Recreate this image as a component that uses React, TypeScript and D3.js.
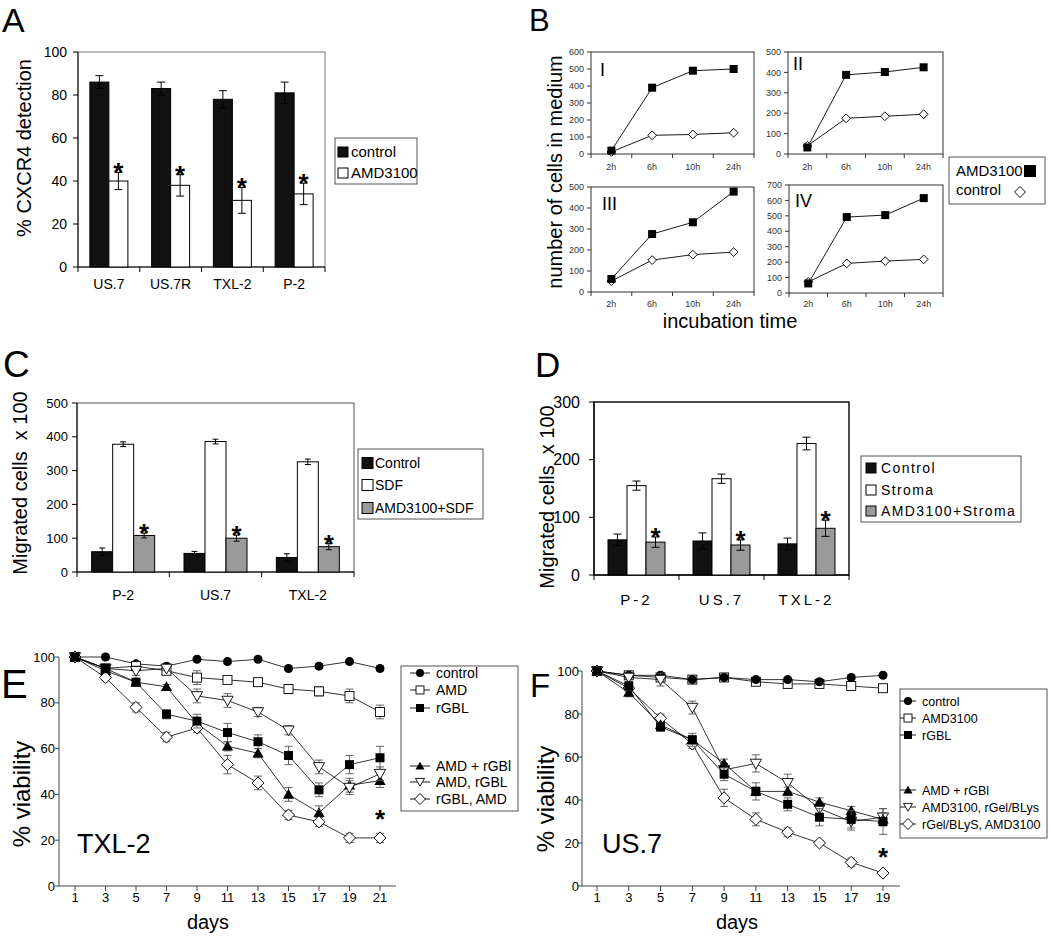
import React from "react";
import * as d3 from "d3";

const FONT = "'Liberation Sans', Arial, Helvetica, sans-serif";

// ---------- Panel A ----------
const aCategories = ["US.7", "US.7R", "TXL-2", "P-2"];
const aControl = [86, 83, 78, 81];
const aControlErr = [3, 3, 4, 5];
const aAMD = [40, 38, 31, 34];
const aAMDErr = [4, 5, 6, 5];
const aTicks = [0, 20, 40, 60, 80, 100];
const aLegend = ["control", "AMD3100"];

// ---------- Panel B ----------
const bTimes = ["2h", "6h", "10h", "24h"];
const bI_AMD = [20, 390, 490, 500];
const bI_control = [12, 110, 115, 125];
const bII_AMD = [32, 388, 402, 425];
const bII_control = [40, 175, 185, 195];
const bIII_AMD = [62, 276, 332, 478];
const bIII_control = [52, 152, 178, 190];
const bIV_AMD = [62, 492, 505, 615];
const bIV_control = [72, 192, 207, 218];
const bTicksI = [0, 100, 200, 300, 400, 500, 600];
const bTicksII = [0, 100, 200, 300, 400, 500];
const bTicksIII = [0, 100, 200, 300, 400, 500];
const bTicksIV = [0, 100, 200, 300, 400, 500, 600, 700];
const bLegend = ["AMD3100", "control"];

// ---------- Panel C ----------
const cCategories = ["P-2", "US.7", "TXL-2"];
const cControl = [60, 55, 43];
const cControlErr = [11, 6, 11];
const cSDF = [378, 386, 326];
const cSDFErr = [7, 7, 8];
const cAMD = [108, 100, 75];
const cAMDErr = [7, 9, 9];
const cTicks = [0, 100, 200, 300, 400, 500];
const cLegend = ["Control", "SDF", "AMD3100+SDF"];

// ---------- Panel D ----------
const dCategories = ["P-2", "US.7", "TXL-2"];
const dControl = [61, 59, 54];
const dControlErr = [10, 14, 10];
const dStroma = [155, 167, 228];
const dStromaErr = [8, 8, 11];
const dAMD = [57, 52, 81];
const dAMDErr = [9, 9, 14];
const dTicks = [0, 100, 200, 300];
const dLegend = ["Control", "Stroma", "AMD3100+Stroma"];

// ---------- Panel E (TXL-2) ----------
const eDays = [1, 3, 5, 7, 9, 11, 13, 15, 17, 19, 21];
const eControl = [100, 100, 97, 96, 99, 98, 99, 95, 96, 98, 95];
const eControlErr = [0, 1, 1, 1, 1, 1, 1, 1, 1, 1, 1];
const eAMD = [100, 95, 96, 94, 91, 90, 89, 86, 85, 83, 76];
const eAMDErr = [0, 1, 2, 1, 3, 1, 1, 2, 2, 3, 3];
const eRGBL = [100, 95, 89, 75, 72, 67, 63, 57, 42, 53, 56];
const eRGBLErr = [0, 2, 1, 2, 3, 4, 3, 4, 3, 4, 5];
const eAMDplus = [100, 94, 89, 87, 71, 61, 58, 40, 32, 44, 46];
const eAMDplusErr = [0, 1, 1, 1, 2, 2, 2, 3, 3, 3, 3];
const eAMDthen = [100, 95, 94, 95, 83, 81, 76, 68, 52, 43, 49];
const eAMDthenErr = [0, 1, 2, 1, 3, 3, 2, 2, 3, 3, 3];
const eRGBLthen = [100, 91, 78, 65, 69, 53, 45, 31, 28, 21, 21];
const eRGBLthenErr = [0, 1, 2, 2, 2, 4, 3, 2, 2, 2, 2];
const eLegend = ["control", "AMD", "rGBL", "AMD + rGBl", "AMD, rGBL", "rGBL, AMD"];

// ---------- Panel F (US.7) ----------
const fDays = [1, 3, 5, 7, 9, 11, 13, 15, 17, 19];
const fControl = [100, 98, 98, 96, 97, 96, 96, 95, 97, 98];
const fControlErr = [0, 1, 1, 1, 1, 1, 1, 1, 1, 1];
const fAMD = [100, 98, 97, 96, 97, 95, 94, 94, 93, 92];
const fAMDErr = [0, 1, 1, 1, 1, 1, 1, 1, 1, 1];
const fRGBL = [100, 93, 74, 68, 52, 44, 38, 32, 31, 30];
const fRGBLErr = [0, 2, 2, 3, 3, 4, 3, 4, 4, 6];
const fAMDplus = [100, 90, 75, 68, 57, 44, 44, 39, 35, 31];
const fAMDplusErr = [0, 2, 1, 2, 2, 2, 2, 2, 2, 3];
const fAMDthen = [100, 97, 96, 83, 54, 57, 48, 36, 30, 32];
const fAMDthenErr = [0, 2, 3, 3, 3, 4, 4, 3, 4, 4];
const fRGBLthen = [100, 92, 78, 66, 41, 31, 25, 20, 11, 6];
const fRGBLthenErr = [0, 1, 2, 2, 4, 3, 2, 1, 2, 1];
const fLegend = ["control", "AMD3100", "rGBL", "AMD + rGBl", "AMD3100, rGel/BLys", "rGel/BLyS, AMD3100"];
const viaTicks = [0, 20, 40, 60, 80, 100];

type MType = "circle" | "square" | "squareOpen" | "tri" | "triDown" | "diamond";

function Marker({ type, x, y, s }: { type: MType; x: number; y: number; s: number }) {
  const sw = 0.9;
  if (type === "circle") return <circle cx={x} cy={y} r={s / 2} fill="#000" />;
  if (type === "square")
    return <rect x={x - s / 2} y={y - s / 2} width={s} height={s} fill="#000" />;
  if (type === "squareOpen")
    return <rect x={x - s / 2} y={y - s / 2} width={s} height={s} fill="#fff" stroke="#000" strokeWidth={sw} />;
  if (type === "tri" || type === "triDown") {
    const p = d3.symbol().type(d3.symbolTriangle).size(s * s * 0.55)() as string;
    return (
      <path
        d={p}
        transform={`translate(${x},${y + (type === "tri" ? 1 : -1)}) rotate(${type === "tri" ? 0 : 180})`}
        fill={type === "tri" ? "#000" : "#fff"}
        stroke="#000"
        strokeWidth={type === "tri" ? 0 : sw}
      />
    );
  }
  const p = d3.symbol().type(d3.symbolSquare).size(s * s * 0.6)() as string;
  return <path d={p} transform={`translate(${x},${y}) rotate(45)`} fill="#fff" stroke="#000" strokeWidth={sw} />;
}

type BarSeries = { values: number[]; errors: number[]; fill: string; star?: boolean };

function BarChart(props: {
  x0: number; x1: number; yTop: number; yBot: number; yMax: number; ticks: number[];
  cats: string[]; series: BarSeries[]; barW: number; capW: number;
  tickFont: number; tickGap: number; catFont: number; catY: number; catSpacing?: number;
  frameColor: string; frameWidth?: number;
}) {
  const { x0, x1, yTop, yBot, yMax, ticks, cats, series, barW, capW } = props;
  const x = d3.scaleBand<string>().domain(cats).range([x0, x1]);
  const y = d3.scaleLinear().domain([0, yMax]).range([yBot, yTop]);
  const groupW = barW * series.length;
  const sub = d3.scaleBand<number>().domain(series.map((_, i) => i)).range([-groupW / 2, groupW / 2]);
  const bounds = [...cats.map((c) => x(c) as number), x1];
  return (
    <g>
      <rect x={x0} y={yTop} width={x1 - x0} height={yBot - yTop} fill="none" stroke={props.frameColor} strokeWidth={props.frameWidth ?? 1} />
      <line x1={x0} x2={x0} y1={yTop} y2={yBot} stroke="#000" />
      <line x1={x0} x2={x1} y1={yBot} y2={yBot} stroke="#000" />
      {ticks.map((t) => (
        <g key={t}>
          <line x1={x0 - 5} x2={x0} y1={y(t)} y2={y(t)} stroke="#000" />
          <text x={x0 - props.tickGap} y={y(t)} dy="0.35em" textAnchor="end" fontSize={props.tickFont}>{t}</text>
        </g>
      ))}
      {bounds.map((b, i) => (
        <line key={i} x1={b} x2={b} y1={yBot} y2={yBot + 5} stroke="#000" />
      ))}
      {cats.map((c, ci) => {
        const cx = (x(c) as number) + x.bandwidth() / 2;
        return (
          <g key={c}>
            {series.map((s, si) => {
              const bx = cx + (sub(si) as number);
              const v = s.values[ci];
              const e = s.errors[ci];
              const mx = bx + barW / 2;
              return (
                <g key={si}>
                  <rect x={bx} y={y(v)} width={barW} height={yBot - y(v)} fill={s.fill} stroke="#000" strokeWidth={1} />
                  <line x1={mx} x2={mx} y1={y(v + e)} y2={y(v - e)} stroke="#000" />
                  <line x1={mx - capW / 2} x2={mx + capW / 2} y1={y(v + e)} y2={y(v + e)} stroke="#000" />
                  <line x1={mx - capW / 2} x2={mx + capW / 2} y1={y(v - e)} y2={y(v - e)} stroke="#000" />
                  {s.star && (
                    <text x={mx} y={y(v + e) + 9} textAnchor="middle" fontSize={26} fontWeight="bold">*</text>
                  )}
                </g>
              );
            })}
            <text x={cx} y={props.catY} textAnchor="middle" fontSize={props.catFont} letterSpacing={props.catSpacing ?? 0}>{c}</text>
          </g>
        );
      })}
    </g>
  );
}

function TimePlot(props: {
  x0: number; x1: number; yTop: number; yBot: number; yMax: number; ticks: number[];
  sq: number[]; dia: number[]; label: string; labelX: number; labelY: number; xLabY: number;
}) {
  const { x0, x1, yTop, yBot, yMax, ticks } = props;
  const x = d3.scaleBand<string>().domain(bTimes).range([x0, x1]);
  const y = d3.scaleLinear().domain([0, yMax]).range([yBot, yTop]);
  const cx = (t: string) => (x(t) as number) + x.bandwidth() / 2;
  const line = d3.line<number>().x((_, i) => cx(bTimes[i])).y((v) => y(v));
  const bounds = [...bTimes.map((t) => x(t) as number), x1];
  return (
    <g>
      <rect x={x0} y={yTop} width={x1 - x0} height={yBot - yTop} fill="none" stroke="#333" strokeWidth={1} />
      {ticks.map((t) => (
        <g key={t}>
          <line x1={x0 - 4} x2={x0} y1={y(t)} y2={y(t)} stroke="#333" />
          <text x={x0 - 7} y={y(t)} dy="0.35em" textAnchor="end" fontSize={9} fill="#333">{t}</text>
        </g>
      ))}
      {bounds.map((b, i) => (
        <line key={i} x1={b} x2={b} y1={yBot} y2={yBot + 4} stroke="#333" />
      ))}
      {bTimes.map((t) => (
        <text key={t} x={cx(t)} y={props.xLabY} textAnchor="middle" fontSize={9} fill="#333">{t}</text>
      ))}
      <path d={line(props.dia) as string} fill="none" stroke="#000" strokeWidth={0.9} />
      <path d={line(props.sq) as string} fill="none" stroke="#000" strokeWidth={0.9} />
      {props.dia.map((v, i) => (
        <Marker key={"d" + i} type="diamond" x={cx(bTimes[i])} y={y(v)} s={8} />
      ))}
      {props.sq.map((v, i) => (
        <Marker key={"s" + i} type="square" x={cx(bTimes[i])} y={y(v)} s={8} />
      ))}
      <text x={props.labelX} y={props.labelY} fontSize={18} fontWeight={300}>{props.label}</text>
    </g>
  );
}

type VSeries = { values: number[]; errors: number[]; type: MType; size: number };

function ViabilityPlot(props: {
  days: number[]; series: VSeries[]; x0: number; axisEnd: number; xFirst: number; xLast: number;
  yTop: number; yBot: number; label: string; starIndex: number; starDay: number; tickRight: number;
}) {
  const { days, series, x0, yTop, yBot } = props;
  const x = d3.scaleLinear().domain([days[0], days[days.length - 1]]).range([props.xFirst, props.xLast]);
  const y = d3.scaleLinear().domain([0, 100]).range([yBot, yTop]);
  const line = d3.line<number>().x((_, i) => x(days[i])).y((v) => y(v));
  const star = series[props.starIndex];
  const si = days.indexOf(props.starDay);
  return (
    <g>
      <line x1={x0} x2={x0} y1={yTop} y2={yBot} stroke="#444" />
      <line x1={x0} x2={props.axisEnd} y1={yBot} y2={yBot} stroke="#444" />
      {viaTicks.map((t) => (
        <g key={t}>
          <line x1={x0 - 4} x2={x0} y1={y(t)} y2={y(t)} stroke="#444" />
          <text x={props.tickRight} y={y(t)} dy="0.35em" textAnchor="end" fontSize={13}>{t}</text>
        </g>
      ))}
      {days.map((d) => (
        <g key={d}>
          <line x1={x(d)} x2={x(d)} y1={yBot} y2={yBot + 5} stroke="#444" />
          <text x={x(d)} y={yBot + 16} textAnchor="middle" fontSize={13}>{d}</text>
        </g>
      ))}
      {series.map((s, k) => (
        <g key={k}>
          <path d={line(s.values) as string} fill="none" stroke="#000" strokeWidth={0.8} />
          {s.values.map((v, i) =>
            s.errors[i] > 0 ? (
              <g key={i} stroke="#555" strokeWidth={0.9}>
                <line x1={x(days[i])} x2={x(days[i])} y1={y(v + s.errors[i])} y2={y(v - s.errors[i])} />
                <line x1={x(days[i]) - 4} x2={x(days[i]) + 4} y1={y(v + s.errors[i])} y2={y(v + s.errors[i])} />
                <line x1={x(days[i]) - 4} x2={x(days[i]) + 4} y1={y(v - s.errors[i])} y2={y(v - s.errors[i])} />
              </g>
            ) : null
          )}
          {s.values.map((v, i) => (
            <Marker key={"m" + i} type={s.type} x={x(days[i])} y={y(v)} s={s.size} />
          ))}
        </g>
      ))}
      <text x={x(props.starDay)} y={y(star.values[si] + star.errors[si]) - 5} textAnchor="middle" fontSize={26} fontWeight="bold">*</text>
    </g>
  );
}

function VLegend({ x0, y0, w, h, labels, types, ys, markX, textX, lineX0, lineX1, fontSize }: {
  x0: number; y0: number; w: number; h: number; labels: string[]; types: MType[]; ys: number[];
  markX: number; textX: number; lineX0: number; lineX1: number; fontSize: number;
}) {
  return (
    <g>
      <rect x={x0} y={y0} width={w} height={h} fill="#fff" stroke="#555" />
      {labels.map((l, i) => (
        <g key={l}>
          <line x1={lineX0} x2={lineX1} y1={ys[i]} y2={ys[i]} stroke="#000" strokeWidth={0.9} />
          <Marker type={types[i]} x={markX} y={ys[i]} s={types[i] === "diamond" ? 10 : 8} />
          <text x={textX} y={ys[i]} dy="0.36em" fontSize={fontSize}>{l}</text>
        </g>
      ))}
    </g>
  );
}

export default function App() {
  const eTypes: MType[] = ["circle", "squareOpen", "square", "tri", "triDown", "diamond"];
  const eSeries: VSeries[] = [
    { values: eControl, errors: eControlErr, type: "circle", size: 9 },
    { values: eAMD, errors: eAMDErr, type: "squareOpen", size: 9 },
    { values: eAMDplus, errors: eAMDplusErr, type: "tri", size: 10 },
    { values: eAMDthen, errors: eAMDthenErr, type: "triDown", size: 10 },
    { values: eRGBLthen, errors: eRGBLthenErr, type: "diamond", size: 11 },
    { values: eRGBL, errors: eRGBLErr, type: "square", size: 9 },
  ];
  const fSeries: VSeries[] = [
    { values: fAMD, errors: fAMDErr, type: "squareOpen", size: 9 },
    { values: fControl, errors: fControlErr, type: "circle", size: 9 },
    { values: fAMDthen, errors: fAMDthenErr, type: "triDown", size: 10 },
    { values: fRGBLthen, errors: fRGBLthenErr, type: "diamond", size: 11 },
    { values: fAMDplus, errors: fAMDplusErr, type: "tri", size: 10 },
    { values: fRGBL, errors: fRGBLErr, type: "square", size: 9 },
  ];
  const cFills = ["#111", "#fff", "#9a9a9a"];

  return (
    <svg
      width={1050}
      height={937}
      viewBox="0 0 1050 937"
      style={{ position: "absolute", left: 0, top: 0, background: "#fff", display: "block" }}
      fontFamily={FONT}
    >
      <rect x={0} y={0} width={1050} height={937} fill="#fff" />

      {/* Panel A */}
      <text x={2} y={32} fontSize={34}>A</text>
      <text transform="translate(31,148) rotate(-90)" textAnchor="middle" fontSize={20}>% CXCR4 detection</text>
      <BarChart
        x0={78} x1={325} yTop={52} yBot={267} yMax={100} ticks={aTicks} cats={aCategories}
        series={[
          { values: aControl, errors: aControlErr, fill: "#111" },
          { values: aAMD, errors: aAMDErr, fill: "#fff", star: true },
        ]}
        barW={19} capW={8} tickFont={14} tickGap={11} catFont={14} catY={289} frameColor="#777"
      />
      <g>
        <rect x={335} y={138} width={82} height={46} fill="#fff" stroke="#555" />
        {aLegend.map((l, i) => (
          <g key={l}>
            <rect x={338} y={[152, 173][i] - 5} width={10} height={10} fill={i === 0 ? "#111" : "#fff"} stroke="#000" />
            <text x={351} y={[152, 173][i]} dy="0.36em" fontSize={15}>{l}</text>
          </g>
        ))}
      </g>

      {/* Panel B */}
      <text x={529} y={31} fontSize={31}>B</text>
      <text transform="translate(562,172) rotate(-90)" textAnchor="middle" fontSize={20}>number of cells in medium</text>
      <TimePlot x0={591} x1={754} yTop={52} yBot={154} yMax={600} ticks={bTicksI} sq={bI_AMD} dia={bI_control} label="I" labelX={600} labelY={76} xLabY={170} />
      <TimePlot x0={788} x1={943} yTop={52} yBot={154} yMax={500} ticks={bTicksII} sq={bII_AMD} dia={bII_control} label="II" labelX={793} labelY={70} xLabY={170} />
      <TimePlot x0={591} x1={754} yTop={187} yBot={292} yMax={500} ticks={bTicksIII} sq={bIII_AMD} dia={bIII_control} label="III" labelX={602} labelY={210} xLabY={307} />
      <TimePlot x0={789} x1={943} yTop={185} yBot={293} yMax={700} ticks={bTicksIV} sq={bIV_AMD} dia={bIV_control} label="IV" labelX={795} labelY={207} xLabY={307} />
      <text x={730} y={328} textAnchor="middle" fontSize={20}>incubation time</text>
      <g>
        <rect x={949} y={157} width={96} height={47} fill="#fff" stroke="#555" />
        <text x={956} y={171} dy="0.36em" fontSize={15}>{bLegend[0]}</text>
        <text x={956} y={190} dy="0.36em" fontSize={15}>{bLegend[1]}</text>
        <Marker type="square" x={1030} y={171} s={12} />
        <Marker type="diamond" x={1020} y={192} s={10} />
      </g>

      {/* Panel C */}
      <text x={3} y={377} fontSize={37}>C</text>
      <text transform="translate(27,483) rotate(-90)" textAnchor="middle" fontSize={20} style={{ whiteSpace: "pre" }}>Migrated cells  x 100</text>
      <BarChart
        x0={77} x1={354} yTop={403} yBot={572} yMax={500} ticks={cTicks} cats={cCategories}
        series={[
          { values: cControl, errors: cControlErr, fill: cFills[0] },
          { values: cSDF, errors: cSDFErr, fill: cFills[1] },
          { values: cAMD, errors: cAMDErr, fill: cFills[2], star: true },
        ]}
        barW={21} capW={6} tickFont={13} tickGap={9} catFont={14} catY={600} frameColor="#555"
      />
      <g>
        <rect x={358} y={449} width={125} height={70} fill="#fff" stroke="#555" />
        {cLegend.map((l, i) => (
          <g key={l}>
            <rect x={362} y={[463, 485, 508][i] - 5.5} width={11} height={11} fill={cFills[i]} stroke="#000" />
            <text x={375} y={[463, 485, 508][i]} dy="0.36em" fontSize={14}>{l}</text>
          </g>
        ))}
      </g>

      {/* Panel D */}
      <text x={535} y={377} fontSize={35}>D</text>
      <text transform="translate(554,497) rotate(-90)" textAnchor="middle" fontSize={20} style={{ whiteSpace: "pre" }}>Migrated cells  x 100</text>
      <BarChart
        x0={594} x1={849} yTop={402} yBot={575} yMax={300} ticks={dTicks} cats={dCategories}
        series={[
          { values: dControl, errors: dControlErr, fill: cFills[0] },
          { values: dStroma, errors: dStromaErr, fill: cFills[1] },
          { values: dAMD, errors: dAMDErr, fill: cFills[2], star: true },
        ]}
        barW={19} capW={8} tickFont={16} tickGap={14} catFont={15} catY={605} catSpacing={3} frameColor="#111" frameWidth={1.5}
      />
      <g>
        <rect x={861} y={456} width={160} height={66} fill="#fff" stroke="#555" />
        {dLegend.map((l, i) => (
          <g key={l}>
            <rect x={866} y={[468, 490, 511][i] - 5} width={10} height={10} fill={cFills[i]} stroke="#000" />
            <text x={881} y={[468, 490, 511][i]} dy="0.36em" fontSize={14} letterSpacing={1.4}>{l}</text>
          </g>
        ))}
      </g>

      {/* Panel E */}
      <text x={1} y={698} fontSize={40}>E</text>
      <text transform="translate(30,794) rotate(-90)" textAnchor="middle" fontSize={24}>% viability</text>
      <ViabilityPlot
        days={eDays} series={eSeries} x0={59} axisEnd={396} xFirst={75} xLast={380}
        yTop={657} yBot={886} label="TXL-2" starIndex={4} starDay={21} tickRight={55}
      />
      <text x={77} y={853} fontSize={27}>TXL-2</text>
      <text x={208} y={929} textAnchor="middle" fontSize={20}>days</text>
      <VLegend
        x0={401} y0={666} w={117} h={145} labels={eLegend} types={eTypes}
        ys={[673, 690, 708, 766, 782, 799]} markX={420} textX={436} lineX0={410} lineX1={430} fontSize={14}
      />

      {/* Panel F */}
      <text x={530} y={697} fontSize={33}>F</text>
      <text transform="translate(554,799) rotate(-90)" textAnchor="middle" fontSize={24}>% viability</text>
      <ViabilityPlot
        days={fDays} series={fSeries} x0={582} axisEnd={900} xFirst={597} xLast={883}
        yTop={671} yBot={886} label="US.7" starIndex={3} starDay={19} tickRight={579}
      />
      <text x={602} y={853} fontSize={27}>US.7</text>
      <text x={737} y={929} textAnchor="middle" fontSize={20}>days</text>
      <VLegend
        x0={900} y0={689} w={147} h={149} labels={fLegend} types={eTypes}
        ys={[701, 718, 735, 790, 807, 824]} markX={908} textX={922} lineX0={900} lineX1={916} fontSize={12.5}
      />
    </svg>
  );
}
